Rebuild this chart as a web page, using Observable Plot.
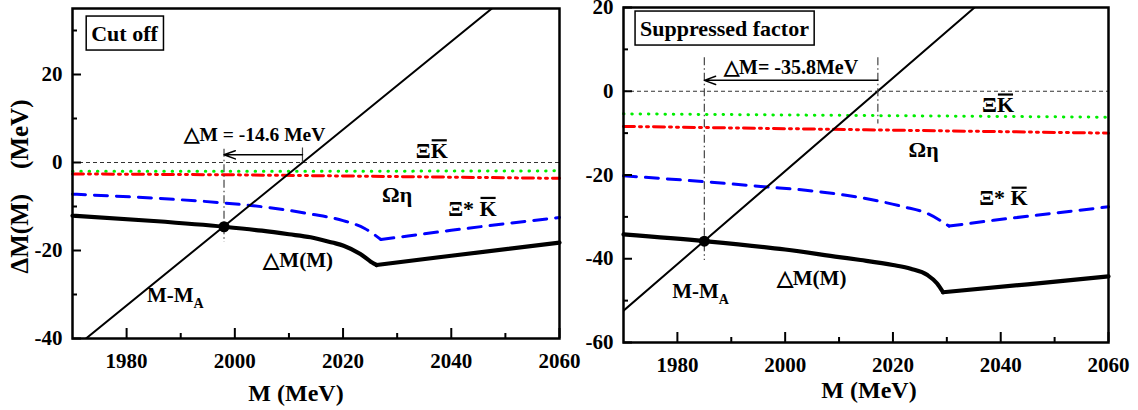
<!DOCTYPE html>
<html>
<head>
<meta charset="utf-8">
<script src="https://cdn.jsdelivr.net/npm/d3@7"></script>
<script src="https://cdn.jsdelivr.net/npm/@observablehq/plot@0.6"></script>
<style>
  body { margin: 0; background: #fff; }
  #wrap { position: relative; width: 1138px; height: 410px; overflow: hidden; background: #fff; }
  #wrap svg { position: absolute; top: 0; overflow: visible; }
</style>
</head>
<body>
<div id="wrap"></div>
<script>
// ---------- tick values ----------
const xMajor = [1980, 2000, 2020, 2040, 2060];
const xMinor = [1990, 2010, 2030, 2050];
const cutYMajor = [-40, -20, 0, 20];
const cutYMinor = [-30, -10, 10, 30];
const supYMajor = [-60, -40, -20, 0, 20];
const supYMinor = [-50, -30, -10, 10];

// ---------- "Cut off" panel ----------
const cutDeltaM = [1970, 1985, 1998, 2005, 2010, 2014, 2018, 2020.1, 2023.2, 2025.7, 2026.2, 2040, 2060];
const cutDeltaV = [-12.1, -13.3, -14.6, -15.5, -16.3, -17.0, -18.2, -18.9, -20.8, -23.0, -23.3, -21.2, -18.2];
const cutXiStarM = [1970, 1985, 1998, 2006, 2014, 2020, 2024, 2027, 2032, 2040, 2050, 2060];
const cutXiStarV = [-7.2, -8.1, -9.2, -10.2, -11.7, -13.2, -15.0, -17.5, -16.7, -15.4, -13.9, -12.5];
const cutOmegaM = [1970, 2000, 2030, 2060];
const cutOmegaV = [-2.6, -2.8, -3.2, -3.6];
const cutXiKM = [1970, 2015, 2060];
const cutXiKV = [-2.0, -2.0, -1.9];
const cutLineM = [1970, 2060];          // M - M_A
const cutLineV = [-42.5, 47.5];
const cutPoint = {M: 1998, dM: -14.6};
const cutCross = 2012.5;

// ---------- "Suppressed factor" panel ----------
const supDeltaM = [1970, 1985, 2000, 2010, 2014, 2020, 2023.3, 2026.4, 2028.2, 2029.3, 2045, 2060];
const supDeltaV = [-34.2, -35.8, -37.8, -39.6, -40.3, -41.5, -42.4, -43.9, -45.9, -48.0, -46.1, -44.2];
const supXiStarM = [1970, 1985, 1996, 2005, 2014, 2018, 2022, 2026.4, 2030.4, 2038.7, 2050, 2060];
const supXiStarV = [-20.2, -21.6, -22.8, -23.8, -25.4, -26.4, -27.6, -29.2, -32.2, -30.8, -29.1, -27.6];
const supOmegaM = [1970, 2015, 2060];
const supOmegaV = [-8.4, -9.2, -10.0];
const supXiKM = [1970, 2015, 2060];
const supXiKV = [-5.4, -5.8, -6.2];
const supLineM = [1970, 2040];          // M - M_A
const supLineV = [-52.4, 25.4];
const supPoint = {M: 1985, dM: -35.8};
const supCross = 2017.2;

const zip = (xs, ys) => xs.map((x, i) => ({x, y: ys[i]}));
// split a curve at its minimum (the threshold cusp): smooth before, straight after
function cuspLines(xs, ys, opts) {
  const pts = zip(xs, ys);
  let k = 0;
  pts.forEach((p, i) => { if (p.y < pts[k].y) k = i; });
  return [
    Plot.line(pts.slice(0, k + 1), {x: "x", y: "y", curve: "monotone-x", ...opts}),
    Plot.line(pts.slice(k), {x: "x", y: "y", curve: "linear", ...opts})
  ];
}

function panel(p) {
  const pw = p.width - p.ml - p.mr, ph = 410 - p.mt - p.mb;
  const txt = (s, o) => Plot.text([s], {text: d => d, fontSize: 22, fontWeight: "bold", fill: "black", lineAnchor: "middle", ...o});
  const marks = [
    Plot.ruleY([0], {stroke: "#333", strokeWidth: 1, strokeDasharray: "4,3"}),
    Plot.line(zip(p.xiKM, p.xiKV), {x: "x", y: "y", stroke: "#00ee00", strokeWidth: 3, strokeLinecap: "round", strokeDasharray: "0.5,7.8"}),
    Plot.line(zip(p.omegaM, p.omegaV), {x: "x", y: "y", stroke: "#ff0000", strokeWidth: 3, strokeDasharray: "11,5,2,5,2,5"}),
    ...cuspLines(p.xiStarM, p.xiStarV, {stroke: "#0000ff", strokeWidth: 3, strokeDasharray: "13,9"}),
    Plot.line(zip(p.lineM, p.lineV), {x: "x", y: "y", stroke: "black", strokeWidth: 2, clip: true}),
    ...cuspLines(p.deltaM, p.deltaV, {stroke: "black", strokeWidth: 4.2, strokeLinejoin: "round"}),
    Plot.ruleX([p.point], {x: "M", y1: () => p.vTop, y2: () => p.vBottom, stroke: "#444", strokeWidth: 1.2, strokeDasharray: "8,3,1.5,3"}),
    Plot.ruleX([p.cross], {x: d => d, y1: () => p.cTop, y2: () => p.cBottom, stroke: "#444", strokeWidth: 1.2, strokeDasharray: p.cDash}),
    Plot.arrow([p.point], {x1: () => p.cross, x2: "M", y1: () => p.arrowY, y2: () => p.arrowY, stroke: "black", strokeWidth: 1.5, headLength: 12, headAngle: 40}),
    Plot.dot([p.point], {x: "M", y: "dM", r: 5.5, fill: "black"}),
    // inward ticks
    Plot.ruleX(xMajor, {x: d => d, insetTop: ph - 10, stroke: "black", strokeWidth: 2}),
    Plot.ruleX(xMinor, {x: d => d, insetTop: ph - 5, stroke: "black", strokeWidth: 2}),
    Plot.ruleY(p.yMajor, {y: d => d, insetRight: pw - 9, stroke: "black", strokeWidth: 2}),
    Plot.ruleY(p.yMinor, {y: d => d, insetRight: pw - 5, stroke: "black", strokeWidth: 2}),
    Plot.frame({stroke: "black", strokeWidth: 2.5}),
    Plot.axisX(xMajor, {tickSize: 0, tickPadding: 14.5, tickFormat: d => `${d}`, fontSize: 21, fontWeight: "bold", label: null}),
    Plot.axisY(p.yMajor, {tickSize: 0, tickPadding: 10, tickFormat: d => `${d}`, fontSize: 21, fontWeight: "bold", label: null}),
    txt("M (MeV)", {frameAnchor: "bottom", dy: p.xTitleDy, dx: p.xTitleDx, fontSize: 24}),
    txt(p.box, {frameAnchor: "top-left", textAnchor: "middle", dx: p.boxDx, dy: p.boxDy, fontSize: 22}),
    ...p.labels.map(l => txt(l.t, {x: () => l.x, y: () => l.y, fontSize: l.fs || 22}))
  ];
  if (p.yTitle) marks.push(txt(p.yTitle, {frameAnchor: "left", textAnchor: "middle", rotate: -90, dx: -53, dy: 13, fontSize: 25}));
  return Plot.plot({
    width: p.width, height: 410,
    marginLeft: p.ml, marginRight: p.mr, marginTop: p.mt, marginBottom: p.mb,
    style: {background: "transparent", overflow: "visible", fontFamily: "'Liberation Serif','Times New Roman',serif"},
    x: {domain: [1970, 2060]},
    y: {domain: p.yDomain},
    marks
  });
}

const left = panel({
  width: 569, ml: 72, mr: 10, mt: 8, mb: 72, yDomain: [-40, 35],
  yMajor: cutYMajor, yMinor: cutYMinor,
  deltaM: cutDeltaM, deltaV: cutDeltaV, xiStarM: cutXiStarM, xiStarV: cutXiStarV,
  omegaM: cutOmegaM, omegaV: cutOmegaV, xiKM: cutXiKM, xiKV: cutXiKV,
  lineM: cutLineM, lineV: cutLineV, point: cutPoint, cross: cutCross,
  vTop: 3.0, vBottom: -18.2, cTop: 3.3, cBottom: 0, cDash: null, arrowY: 1.75,
  xTitleDy: 55, xTitleDx: -20, box: "Cut off", boxDx: 52, boxDy: 25,
  yTitle: "ΔM(M)    (MeV)",
  labels: [
    {t: "△M = -14.6 MeV", x: 2003.7, y: 6.2, fs: 19.5},
    {t: "ΞK", x: 2036.4, y: 2.6},
    {t: "Ωη", x: 2030.0, y: -7.3},
    {t: "Ξ* K", x: 2043.9, y: -10.5},
    {t: "△M(M)", x: 2011.7, y: -22.3, fs: 21},
    {t: "M-MA", x: 1989.0, y: -30.1, fs: 21}
  ]
});
const right = panel({
  width: 569, ml: 54, mr: 30, mt: 7, mb: 68, yDomain: [-60, 20],
  yMajor: supYMajor, yMinor: supYMinor,
  deltaM: supDeltaM, deltaV: supDeltaV, xiStarM: supXiStarM, xiStarV: supXiStarV,
  omegaM: supOmegaM, omegaV: supOmegaV, xiKM: supXiKM, xiKV: supXiKV,
  lineM: supLineM, lineV: supLineV, point: supPoint, cross: supCross,
  vTop: 8.0, vBottom: -40.4, cTop: 8.0, cBottom: -7.8, cDash: "8,3,1.5,3", arrowY: 2.6,
  xTitleDy: 48, xTitleDx: 3, box: "Suppressed factor", boxDx: 101, boxDy: 21,
  yTitle: null,
  labels: [
    {t: "△M= -35.8MeV", x: 2001.1, y: 5.6, fs: 20},
    {t: "ΞK", x: 2039.5, y: -3.35},
    {t: "Ωη", x: 2025.7, y: -14.1},
    {t: "Ξ* K", x: 2040.5, y: -25.6},
    {t: "△M(M)", x: 2004.9, y: -44.6, fs: 21},
    {t: "M-MA", x: 1984.3, y: -47.7, fs: 21}
  ]
});

const wrap = document.getElementById("wrap");
left.style.left = "0px";
right.style.left = "569px";
wrap.appendChild(left);
wrap.appendChild(right);

const NS = "http://www.w3.org/2000/svg";
function decorate(svg) {
  svg.querySelectorAll("text").forEach(t => {
    t.style.fontFamily = "'Liberation Serif', 'Times New Roman', serif";
    t.style.fontWeight = "bold";
    t.style.fontVariant = "normal";
    t.style.fill = "#000";
  });
  svg.querySelectorAll("text").forEach(t => {
    const s = t.textContent;
    const parent = t.parentNode;
    const tr = t.getAttribute("transform");
    if (s === "ΞK" || s === "Ξ* K") {
      const i = s.indexOf("K");
      const r = t.getExtentOfChar(i);
      const ln = document.createElementNS(NS, "line");
      if (tr) ln.setAttribute("transform", tr);
      ln.setAttribute("x1", r.x + 1); ln.setAttribute("x2", r.x + r.width - 1);
      ln.setAttribute("y1", r.y + 2.2); ln.setAttribute("y2", r.y + 2.2);
      ln.setAttribute("stroke", "black"); ln.setAttribute("stroke-width", 2.2);
      parent.appendChild(ln);
    } else if (s === "M-MA") {
      t.textContent = "M-M";
      const sp = document.createElementNS(NS, "tspan");
      sp.textContent = "A";
      sp.setAttribute("font-size", 14);
      sp.setAttribute("dy", 6);
      t.appendChild(sp);
    } else if (s === "Cut off" || s === "Suppressed factor") {
      const b = t.getBBox();
      const rc = document.createElementNS(NS, "rect");
      if (tr) rc.setAttribute("transform", tr);
      rc.setAttribute("x", b.x - 5); rc.setAttribute("y", b.y - 4.5);
      rc.setAttribute("width", b.width + 10); rc.setAttribute("height", b.height + 9);
      rc.setAttribute("fill", "white"); rc.setAttribute("stroke", "black"); rc.setAttribute("stroke-width", 1.5);
      parent.insertBefore(rc, t);
    }
  });
}
decorate(left);
decorate(right);
</script>
</body>
</html>
